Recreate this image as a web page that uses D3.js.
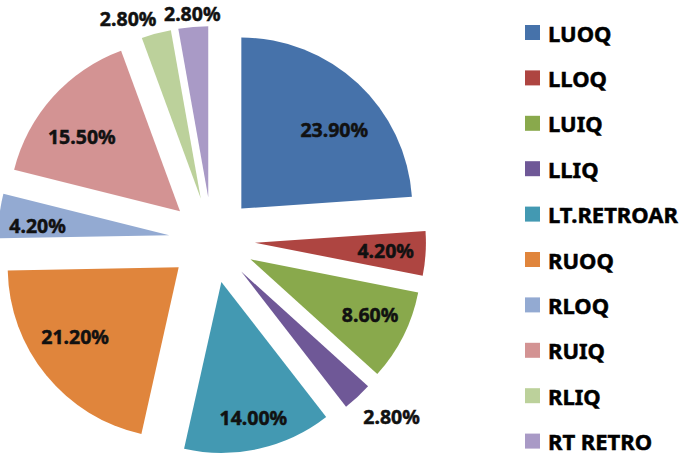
<!DOCTYPE html>
<html>
<head>
<meta charset="utf-8">
<script src="https://cdn.jsdelivr.net/npm/d3@7/dist/d3.min.js"></script>
<style>
  html, body { margin: 0; padding: 0; background: #fff; }
  svg { display: block; }
</style>
</head>
<body>
<svg id="chart" width="685" height="457"></svg>
<script>
// ---- data ----
const categories = ["LUOQ", "LLOQ", "LUIQ", "LLIQ", "LT.RETROAR", "RUOQ", "RLOQ", "RUIQ", "RLIQ", "RT RETRO"];
const values = [23.9, 4.2, 8.6, 2.8, 14.0, 21.2, 4.2, 15.5, 2.8, 2.8];
const valueLabels = ["23.90%", "4.20%", "8.60%", "2.80%", "14.00%", "21.20%", "4.20%", "15.50%", "2.80%", "2.80%"];

// ---- styling / layout ----
const colors = ["#4672AA", "#AE4541", "#89A94C", "#6F5897", "#4399B2", "#E0853C", "#93AAD2", "#D39393", "#BCD19B", "#A99AC6"];
// label placement relative to each exploded slice's apex: [distance px, angle deg clockwise from north]
const labelPolar = [[122, 49.6], [131, 93.5], [132, 115], [209, 134], [140, 166.8],
                    [125, 236], [132, 274], [123, 307], [194, 338], [183.5, 355]];

const svg = d3.select("#chart");
const cx = 212, cy = 240, R = 171, explode = 43;

const pie = d3.pie().sort(null).value(d => d)(values);
const arc = d3.arc().innerRadius(0).outerRadius(R);

const g = svg.append("g").attr("transform", `translate(${cx},${cy})`);

const slices = g.selectAll("g.slice").data(pie).enter().append("g")
  .attr("class", "slice")
  .attr("transform", d => {
    const b = (d.startAngle + d.endAngle) / 2;
    return `translate(${explode * Math.sin(b)},${-explode * Math.cos(b)})`;
  });

slices.append("path")
  .attr("d", arc)
  .attr("fill", (d, i) => colors[i]);

slices.append("text")
  .attr("x", (d, i) => labelPolar[i][0] * Math.sin(labelPolar[i][1] * Math.PI / 180))
  .attr("y", (d, i) => -labelPolar[i][0] * Math.cos(labelPolar[i][1] * Math.PI / 180))
  .attr("dy", "0.36em")
  .attr("text-anchor", "middle")
  .attr("font-family", "'Noto Sans', 'Open Sans', sans-serif")
  .attr("font-weight", "bold")
  .attr("font-size", "19.5px")
  .attr("fill", "#111")
  .attr("stroke", "#111")
  .attr("stroke-width", 0.5)
  .text((d, i) => valueLabels[i]);

// ---- legend ----
const legend = svg.append("g").attr("transform", "translate(525,25)");
const rowH = 45.4;
const items = legend.selectAll("g").data(categories).enter().append("g")
  .attr("transform", (d, i) => `translate(0,${i * rowH})`);
items.append("rect")
  .attr("width", 15).attr("height", 15)
  .attr("fill", (d, i) => colors[i]);
items.append("text")
  .attr("x", 23).attr("y", 16.5)
  .attr("font-family", "'Noto Sans', 'Open Sans', sans-serif")
  .attr("font-weight", "bold")
  .attr("font-size", "22px")
  .attr("fill", "#000")
  .attr("stroke", "#000")
  .attr("stroke-width", 0.5)
  .text(d => d);
</script>
</body>
</html>
